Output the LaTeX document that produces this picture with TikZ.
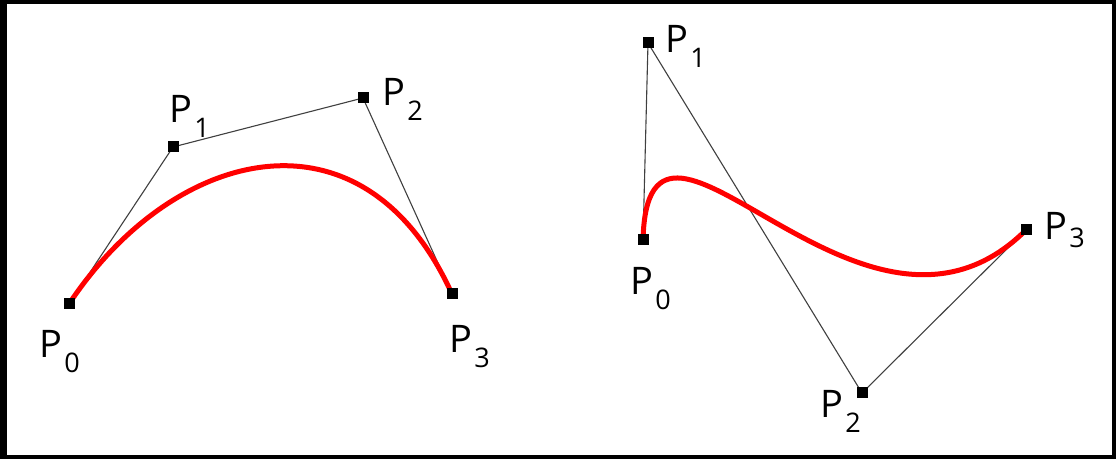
\documentclass[tikz,border=0pt]{standalone}
\usepackage{fontspec}
\setmainfont{Open Sans}
\usepackage{tikz}
\usetikzlibrary{backgrounds}

\newcommand{\subfont}{\fontsize{13.5}{13.5}\selectfont}
\newcommand{\ptname}[2][7.5pt]{P\kern1pt\raisebox{-#1}{\subfont #2}}

\begin{document}
\begin{tikzpicture}[x=0.5pt, y=-0.5pt,
  handle/.style={fill=black, minimum size=5.5pt, inner sep=0pt},
  ctrl/.style={draw=black!75, line width=0.55pt},
  curve/.style={draw=red, line width=2.5pt},
  lbl/.style={anchor=base west, inner sep=0pt, font=\fontsize{19}{19}\selectfont}
]

% LEFT CURVE
\node[handle] (a0) at (69,304) {};
\node[handle] (a1) at (173,147) {};
\node[handle] (a2) at (363,98) {};
\node[handle] (a3) at (452,294) {};

\node[lbl] (la0) at (39,358) {\ptname{0}};
\node[lbl] (la1) at (169,123) {\ptname{1}};
\node[lbl] (la2) at (382,106) {\ptname{2}};
\node[lbl] (la3) at (449,353) {\ptname{3}};

% RIGHT CURVE
\node[handle] (b0) at (643,240) {};
\node[handle] (b1) at (648,43) {};
\node[handle] (b2) at (862,393) {};
\node[handle] (b3) at (1026,230) {};

\node[lbl] (lb0) at (630,295) {\ptname{0}};
\node[lbl] (lb1) at (665,53) {\ptname{1}};
\node[lbl] (lb2) at (820,418) {\ptname{2}};
\node[lbl] (lb3) at (1044,240) {\ptname[4pt]{3}};

\begin{scope}[on background layer]
  % frame
  \fill[black] (0,0) rectangle (1116,459);
  \fill[white] (7,4) rectangle (1112,455);
  % control polygons
  \draw[ctrl] (a0.center) -- (a1.center) -- (a2.center) -- (a3.center);
  \draw[ctrl] (b0.center) -- (b1.center) -- (b2.center) -- (b3.center);
  % bezier curves
  \draw[curve] (a0.center) .. controls (a1.center) and (a2.center) .. (a3.center);
  \draw[curve] (b0.center) .. controls (b1.center) and (b2.center) .. (b3.center);
\end{scope}

\end{tikzpicture}
\end{document}
